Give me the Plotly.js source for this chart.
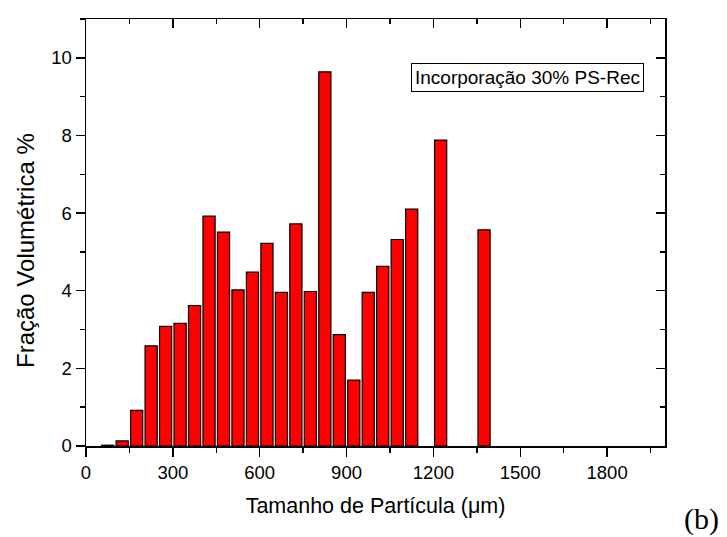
<!DOCTYPE html>
<html>
<head>
<meta charset="utf-8">
<script src="https://cdn.plot.ly/plotly-3.0.1.min.js"></script>
<style>html,body{margin:0;padding:0;background:#fff;}#chart{width:727px;height:537px;}</style>
</head>
<body>
<div id="chart"></div>
<script>
// Particle size bin centres (µm)
const particleSize = [75,125,175,225,275,325,375,425,475,525,575,625,675,725,775,825,875,925,975,1025,1075,1125,1225,1375];
// Volume fraction (%)
const volumeFraction = [0.02,0.13,0.92,2.58,3.08,3.16,3.62,5.92,5.51,4.02,4.48,5.22,3.96,5.72,3.98,9.64,2.87,1.70,3.96,4.63,5.32,6.10,7.88,5.57];
// Tick labels
const xTickVals = [0,300,600,900,1200,1500,1800];
const xTickText = ["0","300","600","900","1200","1500","1800"];
const yTickVals = [0,2,4,6,8,10];
const yTickText = ["0","2","4","6","8","10"];
const legendText = "Incorporação 30% PS-Rec";
const panelLabel = "(b)";
const xTitle = "Tamanho de Partícula (μm)";
const yTitle = "Fração Volumétrica %";

const font = "Liberation Sans, Arial, sans-serif";

const traces = [
  {
    type: "bar",
    x: particleSize,
    y: volumeFraction,
    width: 42,
    marker: {color: "#FF0000", line: {color: "#000000", width: 1.2}},
    showlegend: false,
    hoverinfo: "x+y"
  },
  {
    type: "scatter",
    x: [], y: [],
    xaxis: "x2", yaxis: "y2",
    showlegend: false, hoverinfo: "skip"
  }
];

const common = {
  showgrid: false, zeroline: false,
  linecolor: "#000", linewidth: 1.5,
  tickcolor: "#000", tickwidth: 1.5, ticklen: 9,
  tickfont: {family: font, size: 18.5, color: "#000"}
};

const layout = {
  width: 727, height: 537,
  margin: {l: 86, r: 62, t: 19, b: 91},
  paper_bgcolor: "#fff", plot_bgcolor: "#fff",
  bargap: 0,
  xaxis: Object.assign({}, common, {
    range: [0, 2000], autorange: false,
    tickmode: "array", tickvals: xTickVals, ticktext: xTickText,
    ticks: "outside", mirror: true, showline: true,
    minor: {dtick: 150, tick0: 0, ticks: "outside", ticklen: 5, tickwidth: 1.5, tickcolor: "#000"},
    title: {text: xTitle, font: {family: font, size: 21.5, color: "#000"}, standoff: 16}
  }),
  yaxis: Object.assign({}, common, {
    range: [0, 11], autorange: false,
    tickmode: "array", tickvals: yTickVals, ticktext: yTickText,
    ticks: "outside", mirror: true, showline: true,
    minor: {dtick: 1, tick0: 0, ticks: "outside", ticklen: 5, tickwidth: 1.5, tickcolor: "#000"}
  }),
  xaxis2: Object.assign({}, common, {
    overlaying: "x", side: "top", anchor: "y",
    range: [0, 2000], autorange: false,
    tickmode: "array", tickvals: xTickVals, showticklabels: false,
    ticks: "inside", showline: false,
    minor: {dtick: 150, tick0: 0, ticks: "inside", ticklen: 5, tickwidth: 1.5, tickcolor: "#000"}
  }),
  yaxis2: Object.assign({}, common, {
    overlaying: "y", side: "right", anchor: "x",
    range: [0, 11], autorange: false,
    tickmode: "array", tickvals: yTickVals, showticklabels: false,
    ticks: "inside", showline: false,
    minor: {dtick: 1, tick0: 0, ticks: "inside", ticklen: 5, tickwidth: 1.5, tickcolor: "#000"}
  }),
  annotations: [
    {
      text: yTitle, xref: "paper", yref: "paper",
      x: -0.1036, y: 0.4567, xanchor: "center", yanchor: "middle", textangle: -90,
      showarrow: false, font: {family: font, size: 24, color: "#000"}
    },
    {
      text: legendText, xref: "paper", yref: "paper",
      x: 0.763, y: 0.862, xanchor: "center", yanchor: "middle",
      showarrow: false, font: {family: font, size: 19, color: "#000"},
      bordercolor: "#000", borderwidth: 1, borderpad: 3, bgcolor: "#fff"
    },
    {
      text: panelLabel, xref: "paper", yref: "paper",
      x: 1.063, y: -0.1698, xanchor: "center", yanchor: "middle",
      showarrow: false, font: {family: "Liberation Serif, Times New Roman, serif", size: 30, color: "#000"}
    }
  ]
};

Plotly.newPlot("chart", traces, layout, {displayModeBar: false, staticPlot: true});
</script>
</body>
</html>
